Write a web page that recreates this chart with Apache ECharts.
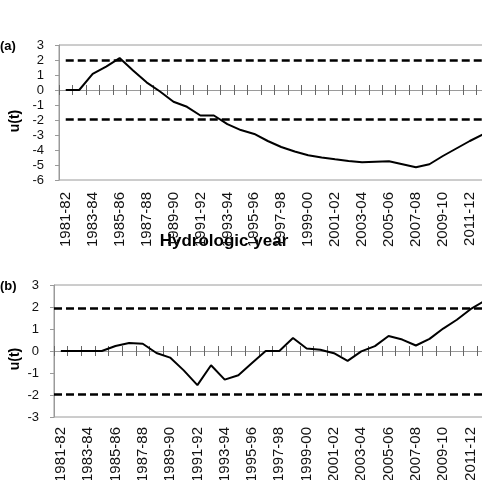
<!DOCTYPE html>
<html>
<head>
<meta charset="utf-8">
<script src="https://cdn.jsdelivr.net/npm/echarts@6/dist/echarts.min.js"></script>
<style>
  html, body { margin: 0; padding: 0; background: #fff; }
  #chart { width: 482px; height: 480px; }
</style>
</head>
<body>
<div id="chart"></div>
<script>
// Hydrologic years
const years = [
  '1981-82', '1982-83', '1983-84', '1984-85', '1985-86', '1986-87', '1987-88', '1988-89',
  '1989-90', '1990-91', '1991-92', '1992-93', '1993-94', '1994-95', '1995-96', '1996-97',
  '1997-98', '1998-99', '1999-00', '2000-01', '2001-02', '2002-03', '2003-04', '2004-05',
  '2005-06', '2006-07', '2007-08', '2008-09', '2009-10', '2010-11', '2011-12', '2012-13'
];

// panel (a) u(t) values
const uA = [
  0, 0, 1.07, 1.56, 2.13, 1.3, 0.51, -0.1,
  -0.78, -1.12, -1.7, -1.7, -2.27, -2.67, -2.93, -3.4,
  -3.8, -4.1, -4.35, -4.5, -4.62, -4.73, -4.82, -4.78,
  -4.75, -4.95, -5.15, -4.95, -4.4, -3.9, -3.4, -2.95
];

// panel (b) u(t) values
const uB = [
  0, 0, 0, 0, 0.23, 0.36, 0.33, -0.09,
  -0.3, -0.88, -1.55, -0.65, -1.3, -1.1, -0.55, 0,
  0, 0.59, 0.11, 0.06, -0.1, -0.45, -0.02, 0.22,
  0.68, 0.52, 0.25, 0.55, 1.02, 1.42, 1.9, 2.27
];

// significance limits
const limitHi = 1.96;
const limitLo = -1.96;

const font = "'Liberation Sans', Arial, sans-serif";
const grey = '#9a9a9a';

const chart = echarts.init(document.getElementById('chart'));

// three x axes per panel: labels at the bottom, zero line with ticks up and down
function xAxes(grid, yIndex, labelMargin) {
  return [
    {
      gridIndex: grid, type: 'category', data: years, boundaryGap: true, position: 'bottom',
      axisLine: { show: false, onZero: false },
      axisTick: { show: false },
      axisLabel: {
        interval: 1, rotate: 90, margin: labelMargin,
        fontFamily: font, fontSize: 15, color: '#111'
      }
    },
    {
      gridIndex: grid, type: 'category', data: years, boundaryGap: true, position: 'bottom',
      axisLine: { show: true, onZero: true, onZeroAxisIndex: yIndex, lineStyle: { color: grey, width: 1 } },
      axisTick: { show: true, interval: 0, length: 5, lineStyle: { color: '#666', width: 1 } },
      axisLabel: { show: false }
    },
    {
      gridIndex: grid, type: 'category', data: years, boundaryGap: true, position: 'bottom',
      axisLine: { show: false, onZero: true, onZeroAxisIndex: yIndex },
      axisTick: { show: true, inside: true, interval: 0, length: 5, lineStyle: { color: '#666', width: 1 } },
      axisLabel: { show: false }
    }
  ];
}

function yAxis(grid, min, max) {
  return {
    gridIndex: grid, type: 'value', min: min, max: max, interval: 1,
    axisLine: { show: true, lineStyle: { color: grey } },
    axisTick: { show: true, length: 4, lineStyle: { color: grey } },
    splitLine: { show: false },
    axisLabel: { margin: 15, fontFamily: font, fontSize: 13, color: '#111' }
  };
}

const dashStyle = { color: '#000', width: 2.5, type: [8, 4] };

const options = {
  animation: false,
  grid: [
    {
      left: 59, top: 45, width: 431, height: 135, show: true, borderColor: grey, borderWidth: 1,
      containLabel: false, outerBoundsMode: 'none'
    },
    {
      left: 54, top: 285, width: 437, height: 132, show: true, borderColor: grey, borderWidth: 1,
      containLabel: false, outerBoundsMode: 'none'
    }
  ],
  xAxis: xAxes(0, 0, 12).concat(xAxes(1, 1, 10)),
  yAxis: [yAxis(0, -6, 3), yAxis(1, -3, 3)],
  series: [
    {
      type: 'line', xAxisIndex: 0, yAxisIndex: 0, data: uA,
      symbol: 'none', lineStyle: { color: '#000', width: 2 },
      markLine: {
        silent: true, symbol: 'none', label: { show: false }, lineStyle: dashStyle,
        data: [
          [{ coord: [years[0], limitHi] }, { coord: [years[years.length - 1], limitHi] }],
          [{ coord: [years[0], limitLo] }, { coord: [years[years.length - 1], limitLo] }]
        ]
      }
    },
    {
      type: 'line', xAxisIndex: 3, yAxisIndex: 1, data: uB,
      symbol: 'none', lineStyle: { color: '#000', width: 2 },
      markLine: {
        silent: true, symbol: 'none', label: { show: false }, lineStyle: dashStyle,
        data: [{ yAxis: limitHi }, { yAxis: limitLo }]
      }
    }
  ],
  graphic: [
    { type: 'text', left: 0, top: 40, style: { text: '(a)', font: 'bold 13px ' + font, fill: '#000' } },
    { type: 'text', left: 0, top: 280, style: { text: '(b)', font: 'bold 13px ' + font, fill: '#000' } },
    {
      type: 'text', x: 15, y: 121, rotation: Math.PI / 2,
      style: { text: 'u(t)', font: 'bold 14px ' + font, fill: '#000', align: 'center', verticalAlign: 'middle' }
    },
    {
      type: 'text', x: 15, y: 359, rotation: Math.PI / 2,
      style: { text: 'u(t)', font: 'bold 14px ' + font, fill: '#000', align: 'center', verticalAlign: 'middle' }
    },
    {
      type: 'text', x: 224, y: 241,
      style: { text: 'Hydrologic year', font: 'bold 17px ' + font, fill: '#000', align: 'center', verticalAlign: 'middle' }
    }
  ]
};

chart.setOption(options);
</script>
</body>
</html>
